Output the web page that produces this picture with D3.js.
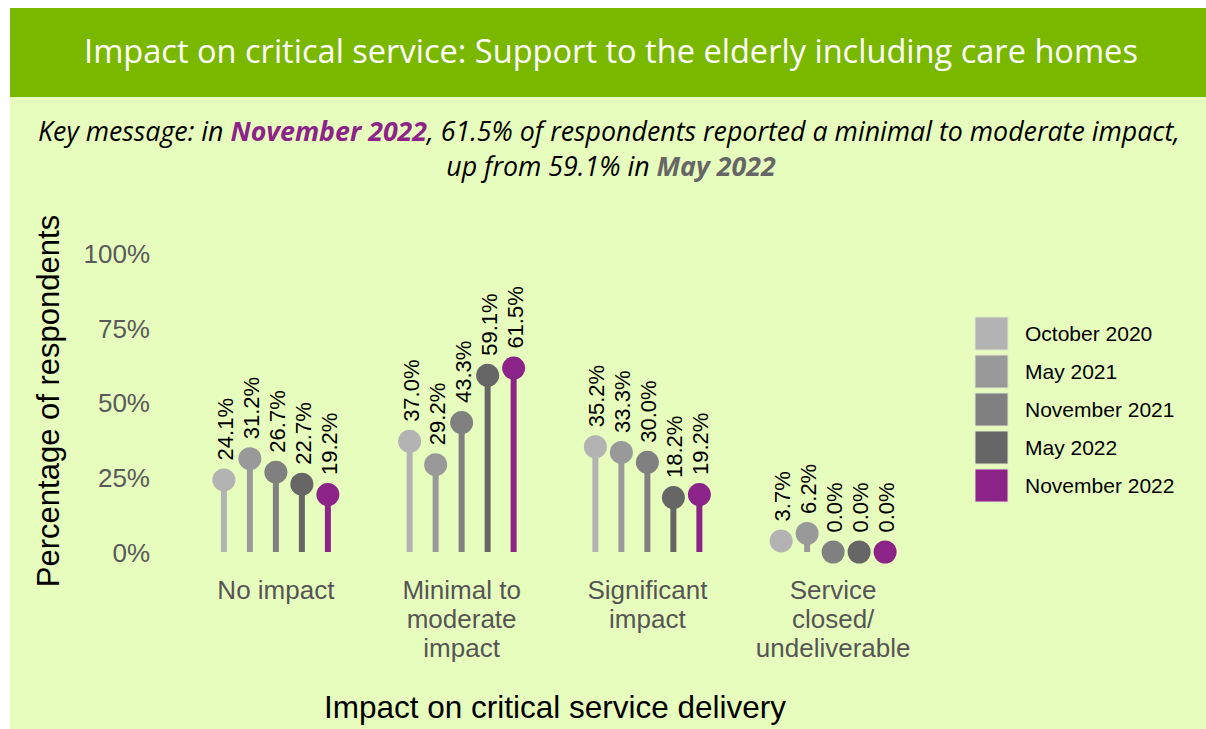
<!DOCTYPE html>
<html>
<head>
<meta charset="utf-8">
<script src="https://cdn.jsdelivr.net/npm/d3@7"></script>
<style>
  html, body { margin: 0; padding: 0; background: #ffffff; }
  svg { display: block; }
</style>
</head>
<body>
<svg id="chart" width="1206" height="729"></svg>
<script>
// Survey rounds (series) and impact categories
const rounds = ["October 2020", "May 2021", "November 2021", "May 2022", "November 2022"];
const roundColors = ["#b3b3b3", "#999999", "#808080", "#666666", "#8b2388"];
const categories = ["No impact", "Minimal to moderate impact", "Significant impact", "Service closed/ undeliverable"];
const categoryLines = [["No impact"], ["Minimal to", "moderate", "impact"], ["Significant", "impact"], ["Service", "closed/", "undeliverable"]];

// Percentage of respondents, one array per category, in round order
const noImpact    = [24.1, 31.2, 26.7, 22.7, 19.2];
const minimalMod  = [37.0, 29.2, 43.3, 59.1, 61.5];
const significant = [35.2, 33.3, 30.0, 18.2, 19.2];
const serviceClosed = [3.7, 6.2, 0.0, 0.0, 0.0];
const valuesByCategory = [noImpact, minimalMod, significant, serviceClosed];

const yTicks = [0, 25, 50, 75, 100];

const titleText = "Impact on critical service: Support to the elderly including care homes";
const xTitle = "Impact on critical service delivery";
const yTitle = "Percentage of respondents";

const svg = d3.select("#chart");

// Panels
svg.append("rect").attr("x", 10).attr("y", 97).attr("width", 1196).attr("height", 632).attr("fill", "#e7fdbd");
svg.append("rect").attr("x", 10).attr("y", 8).attr("width", 1196).attr("height", 89).attr("fill", "#7ab800");

function fitWidth(sel, target) {
  const w = sel.node().getComputedTextLength();
  const fs = parseFloat(sel.attr("font-size"));
  sel.attr("font-size", (fs * target / w).toFixed(2));
}

const title = svg.append("text")
  .attr("x", 611).attr("y", 63)
  .attr("text-anchor", "middle")
  .attr("font-family", "'Open Sans', sans-serif")
  .attr("font-size", 30)
  .attr("fill", "#ffffff")
  .text(titleText);
fitWidth(title, 1054);

// Key message
const km1 = svg.append("text")
  .attr("x", 609).attr("y", 141)
  .attr("text-anchor", "middle")
  .attr("font-family", "'Open Sans', sans-serif")
  .attr("font-style", "italic")
  .attr("font-size", 22)
  .attr("fill", "#000");
km1.append("tspan").text("Key message: in ");
km1.append("tspan").attr("font-weight", "bold").attr("fill", "#8b2388").text("November 2022");
km1.append("tspan").text(", 61.5% of respondents reported a minimal to moderate impact,");
fitWidth(km1, 1142);
const kmSize = km1.attr("font-size");

const km2 = svg.append("text")
  .attr("x", 611).attr("y", 176)
  .attr("text-anchor", "middle")
  .attr("font-family", "'Open Sans', sans-serif")
  .attr("font-style", "italic")
  .attr("font-size", kmSize)
  .attr("fill", "#000");
km2.append("tspan").text("up from 59.1% in ");
km2.append("tspan").attr("font-weight", "bold").attr("fill", "#666666").text("May 2022");

// Scales
const y = d3.scaleLinear().domain([0, 100]).range([552, 253]);
const x = d3.scaleBand().domain(categories).range([183, 926]);
const inner = d3.scaleBand().domain(rounds).range([-65, 65]);

const font = "'Liberation Sans', Arial, sans-serif";

// Y axis tick labels
const yAxis = d3.axisLeft(y).tickValues(yTicks).tickFormat(d => d + "%").tickSize(0).tickPadding(0);
const yG = svg.append("g").attr("transform", "translate(150,0)").call(yAxis);
yG.select(".domain").remove();
yG.selectAll("text")
  .attr("font-family", font).attr("font-size", 26).attr("fill", "#595959")
  .attr("dy", "0.36em");

svg.append("text")
  .attr("transform", "translate(59,401) rotate(-90)")
  .attr("text-anchor", "middle")
  .attr("font-family", font).attr("font-size", 31).attr("fill", "#000")
  .text(yTitle);

// X axis category labels
const xAxis = d3.axisBottom(x).tickSize(0).tickFormat("");
const xG = svg.append("g").attr("transform", "translate(0,552)").call(xAxis);
xG.select(".domain").remove();
xG.selectAll(".tick").each(function(d, i) {
  const t = d3.select(this).append("text")
    .attr("text-anchor", "middle")
    .attr("font-family", font).attr("font-size", 26).attr("fill", "#555555");
  categoryLines[i].forEach((line, k) => {
    t.append("tspan").attr("x", 0).attr("y", 47 + k * 29).text(line);
  });
});

svg.append("text")
  .attr("x", 555).attr("y", 718)
  .attr("text-anchor", "middle")
  .attr("font-family", font).attr("font-size", 31.5).attr("fill", "#000")
  .text(xTitle);

// Lollipops
const r = 11.5;
const points = [];
categories.forEach((c, ci) => {
  valuesByCategory[ci].forEach((v, ri) => {
    points.push({ cat: c, round: rounds[ri], color: roundColors[ri], value: v });
  });
});
const px = d => x(d.cat) + x.bandwidth() / 2 + inner(d.round) + inner.bandwidth() / 2;

const g = svg.append("g");
g.selectAll("line.stem").data(points).join("line")
  .attr("class", "stem")
  .attr("x1", px).attr("x2", px)
  .attr("y1", y(0)).attr("y2", d => y(d.value))
  .attr("stroke", d => d.color).attr("stroke-width", 6);

g.selectAll("circle").data(points).join("circle")
  .attr("cx", px)
  .attr("cy", d => y(d.value))
  .attr("r", r)
  .attr("fill", d => d.color);

g.selectAll("text.val").data(points).join("text")
  .attr("class", "val")
  .attr("transform", d => `translate(${px(d) + 1},${y(d.value) - r - 8}) rotate(-90)`)
  .attr("dy", "0.36em")
  .attr("font-family", font).attr("font-size", 22).attr("fill", "#000")
  .text(d => d.value.toFixed(1) + "%");

// Legend
const legend = svg.append("g").attr("transform", "translate(975,317)");
const li = legend.selectAll("g").data(rounds).join("g")
  .attr("transform", (d, i) => `translate(0,${i * 38})`);
li.append("rect").attr("width", 33).attr("height", 33)
  .attr("fill", (d, i) => roundColors[i])
  .attr("stroke", "#dfe9cc").attr("stroke-width", 1);
li.append("text")
  .attr("x", 50).attr("y", 16.5).attr("dy", "0.36em")
  .attr("font-family", font).attr("font-size", 21).attr("fill", "#000")
  .text(d => d);
</script>
</body>
</html>
